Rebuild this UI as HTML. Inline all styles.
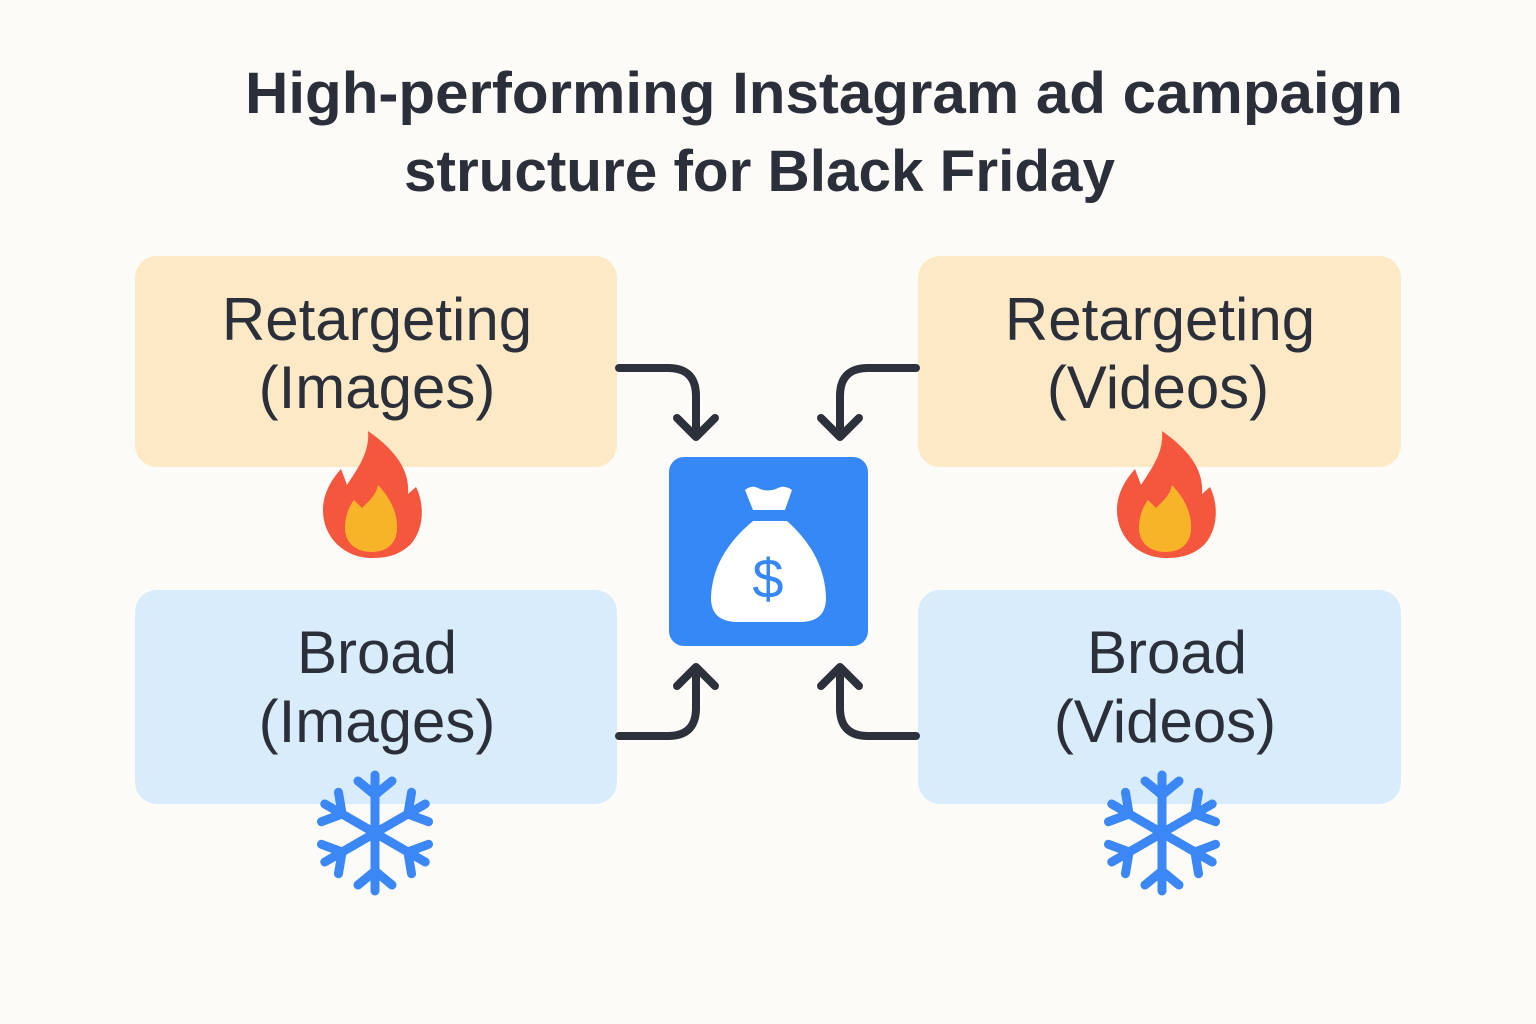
<!DOCTYPE html>
<html><head><meta charset="utf-8"><style>
html,body{margin:0;padding:0;background:#fdfbf7;}
svg{display:block}
text{font-family:"Liberation Sans",sans-serif;fill:#2a2f3a;}
</style></head><body>
<svg width="1536" height="1024" viewBox="0 0 1536 1024" xmlns="http://www.w3.org/2000/svg">
<defs>
<g id="flame">
<path d="M368,431 C395,450 410,470 408,494 L416,487 C425,505 424,530 410,545 C398,556 385,558 372,558 C345,558 323,538 323,510 C323,492 333,478 341,469 L347,485 C358,468 370,452 368,431 Z" fill="#f4563e"/>
<path d="M378,485 C392,500 398,515 397,530 C396,545 385,552 372,552 C356,552 345,543 345,528 C345,515 350,505 354,500 L362,508 C370,500 376,495 378,485 Z" fill="#f8b429"/>
</g>
<g id="arm" stroke="#3a87f5" stroke-width="9" stroke-linecap="round" stroke-linejoin="round" fill="none">
<line x1="0" y1="0" x2="0" y2="-58"/>
<polyline points="-17,-52 0,-38 17,-52"/>
</g>
<g id="snow">
<use href="#arm"/>
<use href="#arm" transform="rotate(60)"/>
<use href="#arm" transform="rotate(120)"/>
<use href="#arm" transform="rotate(180)"/>
<use href="#arm" transform="rotate(240)"/>
<use href="#arm" transform="rotate(300)"/>
</g>
</defs>
<text x="245" y="113" font-size="58" font-weight="bold" textLength="1158" lengthAdjust="spacingAndGlyphs">High-performing Instagram ad campaign</text>
<text x="404" y="191" font-size="58" font-weight="bold" textLength="711" lengthAdjust="spacingAndGlyphs">structure for Black Friday</text>

<rect x="135" y="256" width="482" height="211" rx="22" fill="#fde9c5"/>
<rect x="918" y="256" width="483" height="211" rx="22" fill="#fde9c5"/>
<rect x="135" y="590" width="482" height="214" rx="22" fill="#d9ecfc"/>
<rect x="918" y="590" width="483" height="214" rx="22" fill="#d9ecfc"/>

<g font-size="60" text-anchor="middle">
<text x="377" y="340">Retargeting</text>
<text x="377" y="408">(Images)</text>
<text x="1160" y="340">Retargeting</text>
<text x="1158" y="408">(Videos)</text>
<text x="377" y="673">Broad</text>
<text x="377" y="742">(Images)</text>
<text x="1167" y="673">Broad</text>
<text x="1165" y="742">(Videos)</text>
</g>

<use href="#flame"/>
<use href="#flame" transform="translate(794,0)"/>
<use href="#snow" transform="translate(375,833)"/>
<use href="#snow" transform="translate(1162,833)"/>

<g stroke="#2c313b" stroke-width="8" fill="none" stroke-linecap="round" stroke-linejoin="round">
<path d="M619,368 H668 Q696,368 696,396 V436"/>
<polyline points="677,418 696,437 715,418"/>
<path d="M916,368 H868 Q840,368 840,396 V436"/>
<polyline points="821,418 840,437 859,418"/>
<path d="M619,736 H668 Q696,736 696,708 V668"/>
<polyline points="677,686 696,667 715,686"/>
<path d="M916,736 H868 Q840,736 840,708 V668"/>
<polyline points="821,686 840,667 859,686"/>
</g>

<rect x="669" y="457" width="199" height="189" rx="15" fill="#3688f6"/>
<path d="M745,490 Q752,484 760,489 Q768,492 776,489 Q784,484 792,490 L785,510 H753 Z" fill="#fff"/>
<path d="M753,521 H787 Q825,555 826,598 Q826,622 800,622 H738 Q711,622 711,598 Q712,555 753,521 Z" fill="#fff"/>
<text x="768" y="598" font-size="56" text-anchor="middle" style="fill:#3688f6">$</text>
</svg>
</body></html>
